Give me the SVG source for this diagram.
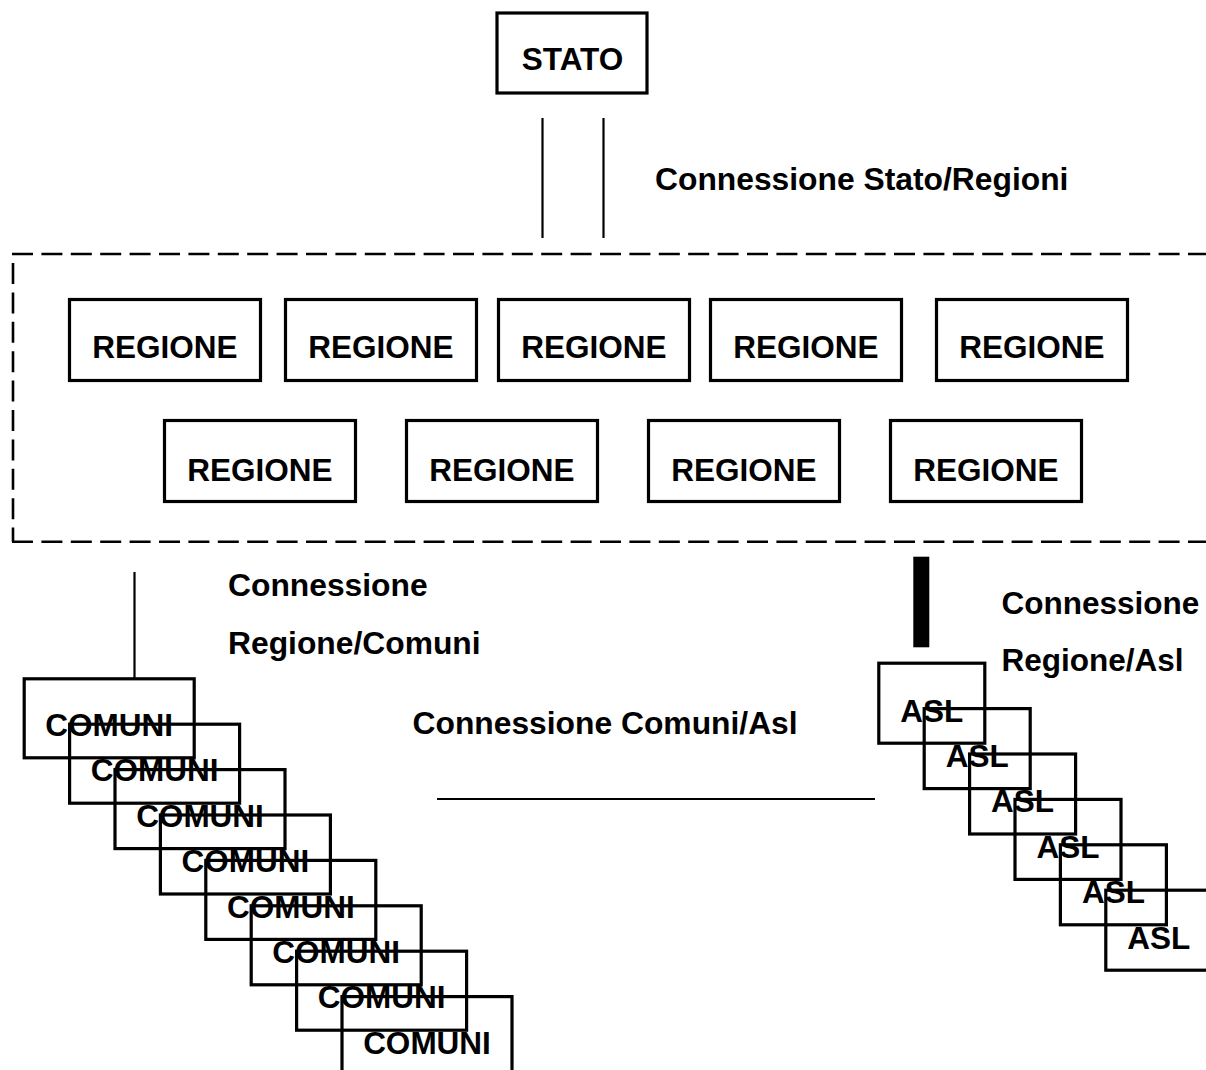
<svg xmlns="http://www.w3.org/2000/svg" width="1206" height="1070" viewBox="0 0 1206 1070">
  <style>
    .box { fill: none; stroke: #000; stroke-width: 3.2; }
    .lbl { font-family: "Liberation Sans", Arial, sans-serif; font-weight: bold; font-size: 31.5px; fill: #000; }
    .cap { font-size: 31.8px; }
    .mid { text-anchor: middle; }
    .wire { stroke: #000; stroke-width: 2.2; fill: none; }
    .dash { stroke: #000; stroke-width: 2.6; fill: none; stroke-dasharray: 21 8.4; }
  </style>
  <rect width="1206" height="1070" fill="#fff"/>

  <!-- national level -->
  <g id="stato">
    <rect class="box" x="497" y="13" width="150" height="80" stroke-width="3.6"/>
    <text class="lbl mid" x="572.5" y="70">STATO</text>
  </g>

  <!-- regional container -->
  <g id="regioni">
    <line class="dash" x1="12" y1="254" x2="1210" y2="254"/>
    <line class="dash" x1="12" y1="541.7" x2="1210" y2="541.7"/>
    <line class="dash" x1="13" y1="263" x2="13" y2="541.7"/>
  </g>

  <g id="regione-1"><rect class="box" x="69.5" y="299.5" width="191" height="81"/><text class="lbl mid" x="165" y="358">REGIONE</text></g>
  <g id="regione-2"><rect class="box" x="285.5" y="299.5" width="191" height="81"/><text class="lbl mid" x="381" y="358">REGIONE</text></g>
  <g id="regione-3"><rect class="box" x="498.5" y="299.5" width="191" height="81"/><text class="lbl mid" x="594" y="358">REGIONE</text></g>
  <g id="regione-4"><rect class="box" x="710.5" y="299.5" width="191" height="81"/><text class="lbl mid" x="806" y="358">REGIONE</text></g>
  <g id="regione-5"><rect class="box" x="936.5" y="299.5" width="191" height="81"/><text class="lbl mid" x="1032" y="358">REGIONE</text></g>
  <g id="regione-6"><rect class="box" x="164.5" y="420.5" width="191" height="81"/><text class="lbl mid" x="260" y="480.5">REGIONE</text></g>
  <g id="regione-7"><rect class="box" x="406.5" y="420.5" width="191" height="81"/><text class="lbl mid" x="502" y="480.5">REGIONE</text></g>
  <g id="regione-8"><rect class="box" x="648.5" y="420.5" width="191" height="81"/><text class="lbl mid" x="744" y="480.5">REGIONE</text></g>
  <g id="regione-9"><rect class="box" x="890.5" y="420.5" width="191" height="81"/><text class="lbl mid" x="986" y="480.5">REGIONE</text></g>

  <!-- municipalities, stacked -->
  <g id="comuni">
    <g id="comune-1"><rect class="box" x="24.2" y="678.8" width="170" height="79"/><text class="lbl mid" x="109.2" y="736">COMUNI</text></g>
    <g id="comune-2"><rect class="box" x="69.6" y="724.2" width="170" height="79"/><text class="lbl mid" x="154.6" y="781.4">COMUNI</text></g>
    <g id="comune-3"><rect class="box" x="115" y="769.6" width="170" height="79"/><text class="lbl mid" x="200" y="826.8">COMUNI</text></g>
    <g id="comune-4"><rect class="box" x="160.4" y="815" width="170" height="79"/><text class="lbl mid" x="245.4" y="872.2">COMUNI</text></g>
    <g id="comune-5"><rect class="box" x="205.8" y="860.4" width="170" height="79"/><text class="lbl mid" x="290.8" y="917.6">COMUNI</text></g>
    <g id="comune-6"><rect class="box" x="251.2" y="905.8" width="170" height="79"/><text class="lbl mid" x="336.2" y="963">COMUNI</text></g>
    <g id="comune-7"><rect class="box" x="296.6" y="951.2" width="170" height="79"/><text class="lbl mid" x="381.6" y="1008.4">COMUNI</text></g>
    <g id="comune-8"><rect class="box" x="342" y="996.6" width="170" height="79"/><text class="lbl mid" x="427" y="1053.8">COMUNI</text></g>
  </g>

  <!-- health authorities, stacked -->
  <g id="asl">
    <g id="asl-1"><rect class="box" x="878.8" y="663.2" width="106" height="80"/><text class="lbl mid" x="931.8" y="721.5">ASL</text></g>
    <g id="asl-2"><rect class="box" x="924.2" y="708.6" width="106" height="80"/><text class="lbl mid" x="977.2" y="766.9">ASL</text></g>
    <g id="asl-3"><rect class="box" x="969.6" y="754" width="106" height="80"/><text class="lbl mid" x="1022.6" y="812.3">ASL</text></g>
    <g id="asl-4"><rect class="box" x="1015" y="799.4" width="106" height="80"/><text class="lbl mid" x="1068" y="857.7">ASL</text></g>
    <g id="asl-5"><rect class="box" x="1060.4" y="844.8" width="106" height="80"/><text class="lbl mid" x="1113.4" y="903.1">ASL</text></g>
    <g id="asl-6"><rect class="box" x="1105.8" y="890.2" width="106" height="80"/><text class="lbl mid" x="1158.8" y="948.5">ASL</text></g>
  </g>

  <!-- connections -->
  <g id="connectors">
    <line class="wire" x1="542.5" y1="118" x2="542.5" y2="238"/>
    <line class="wire" x1="603.5" y1="118" x2="603.5" y2="238"/>
    <line class="wire" x1="134.5" y1="572" x2="134.5" y2="678"/>
    <rect x="913.3" y="556.7" width="16" height="90.6" fill="#000"/>
    <line class="wire" x1="437" y1="799" x2="875" y2="799" stroke-width="2.6"/>
  </g>

  <!-- connection labels -->
  <g id="labels">
    <text class="lbl cap" x="655" y="189.5">Connessione Stato/Regioni</text>
    <text class="lbl cap" x="228" y="596">Connessione</text>
    <text class="lbl cap" x="228" y="654">Regione/Comuni</text>
    <text class="lbl cap" x="412.5" y="734.3">Connessione Comuni/Asl</text>
    <text class="lbl" x="1001.5" y="614">Connessione</text>
    <text class="lbl" x="1001.5" y="671">Regione/Asl</text>
  </g>
</svg>
